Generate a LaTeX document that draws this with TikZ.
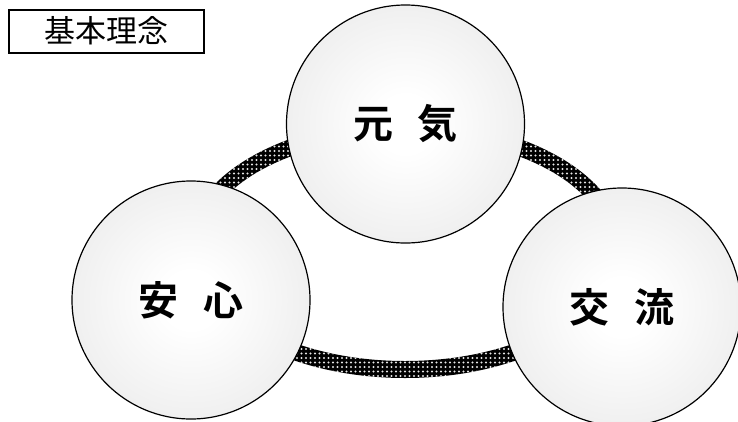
\documentclass[tikz,border=0pt]{standalone}
\usepackage{fontspec}
\newfontfamily\jp{Noto Sans CJK JP}[BoldFont={* Bold}]
\usetikzlibrary{patterns.meta}
\pgfdeclareradialshading{ballshade}{\pgfpoint{0bp}{0bp}}{%
  color(0bp)=(white); color(6bp)=(white); color(50bp)=(black!14)}
\tikzset{
  ball/.style={circle, draw=black, line width=1.2pt, minimum size=238pt, inner sep=0pt,
    shading=ballshade,
    font=\jp\bfseries\fontsize{40}{40}\selectfont},
  titlebox/.style={draw=black, line width=2pt, minimum width=195pt, minimum height=43pt,
    inner sep=0pt, font=\jp\fontsize{31}{31}\selectfont},
}
\begin{document}
\begin{tikzpicture}[x=1pt,y=-1pt]
\useasboundingbox (0,0) rectangle (738,421);
% ring
\fill[black, even odd rule] (405,249) ellipse [x radius=220, y radius=129]
                            (405,249) ellipse [x radius=203, y radius=112];
\fill[pattern={Dots[distance=4.5pt, radius=1.05pt]}, pattern color=white!90!black, even odd rule]
   (405,249) ellipse [x radius=220, y radius=129]
   (405,249) ellipse [x radius=203, y radius=112];
% title
\node[titlebox] (title) at (106.5,31) {基本理念};
% circles
\node[ball] (genki) at (405.5,124) {元\hspace{0.62em}気};
\node[ball] (anshin) at (191,300) {安\hspace{0.62em}心};
\node[ball] (koryu) at (622,307) {交\hspace{0.62em}流};
\end{tikzpicture}
\end{document}
